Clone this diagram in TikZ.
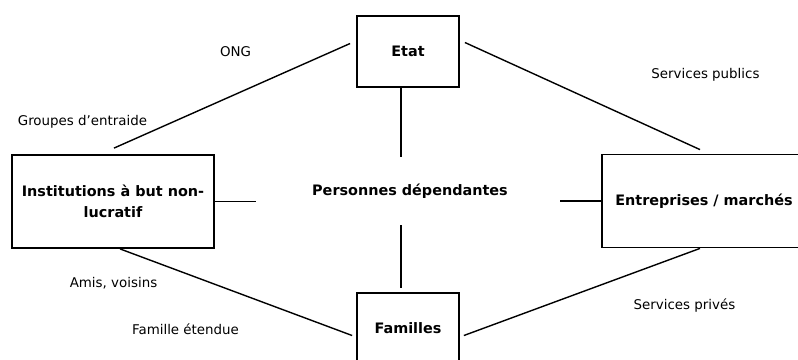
\documentclass[tikz,border=0pt]{standalone}
\usepackage{fontspec}
\setmainfont{DejaVu Sans}
\usetikzlibrary{positioning}

\begin{document}
\begin{tikzpicture}[x=1pt, y=-1pt,
	box/.style={rectangle, draw, line width=1.8pt, align=center, font=\bfseries\fontsize{14.4}{21}\selectfont},
	lbl/.style={font=\fontsize{13.4}{16}\selectfont},
	link/.style={line width=1.4pt}]
\useasboundingbox (0,0) rectangle (798,359);
\clip (0,0) rectangle (798,359);
% boxes
\node[box, minimum width=102pt, minimum height=71pt] (etat) at (408,51.5) {Etat};
\node[box, minimum width=202pt, minimum height=93pt] (inst) at (113,201.5) {Institutions à but non-\\lucratif};
\node[box, minimum width=204pt, minimum height=93pt] (entr) at (704,201) {Entreprises / marchés};
\node[box, minimum width=102pt, minimum height=71pt] (fam) at (408,328.5) {Familles};
\node[font=\bfseries\fontsize{14.4}{16}\selectfont] (pers) at (410,191) {Personnes dépendantes};
% labels
\node[lbl] (ong) at (235.5,52) {ONG};
\node[lbl] (grp) at (82.5,122) {Groupes d'entraide};
\node[lbl] (pub) at (705.5,75) {Services publics};
\node[lbl] (amis) at (113.5,283) {Amis, voisins};
\node[lbl] (fet) at (185.5,329) {Famille étendue};
\node[lbl] (priv) at (684.5,306) {Services privés};
% free ends
\coordinate (top) at (401,157);
\coordinate (bot) at (401,225);
\coordinate (lstub) at (256,201.5);
\coordinate (rstub) at (560,201);
% links
\draw[link] ([shift={(-6,-8)}]etat.west) -- ([shift={(1,-6)}]inst.north);
\draw[link] ([shift={(5,-9)}]etat.east) -- ([shift={(-4,-4)}]entr.north);
\draw[link] ([shift={(7,0)}]inst.south) -- ([shift={(-4,7)}]fam.west);
\draw[link] ([shift={(4,7)}]fam.east) -- ([shift={(-4,0)}]entr.south);
\draw[link] (etat.south -| top) -- (top);
\draw[link] (bot) -- ([shift={(0,-4)}]fam.north -| bot);
\draw[link] (inst.east) -- (lstub);
\draw[link] (rstub) -- (entr.west);
\end{tikzpicture}
\end{document}
